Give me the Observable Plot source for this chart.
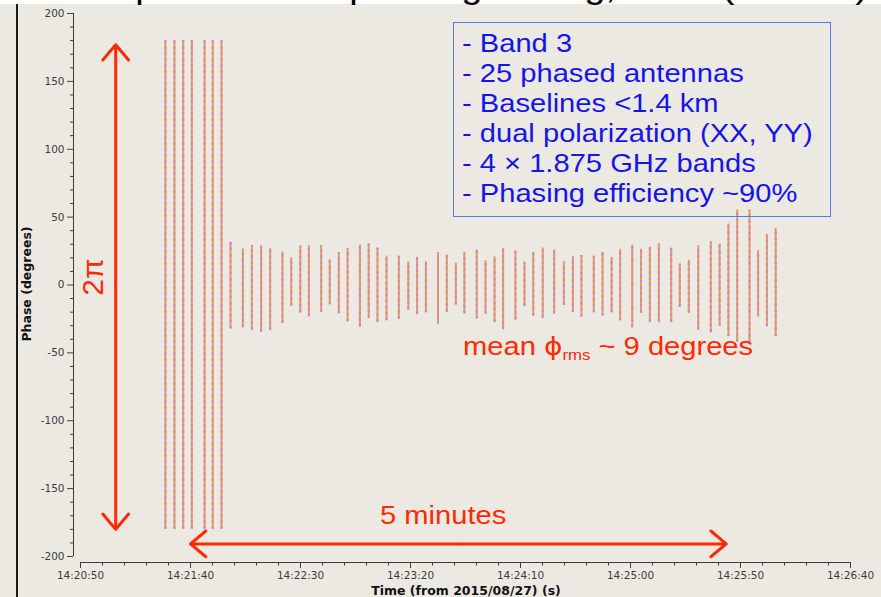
<!DOCTYPE html>
<html><head><meta charset="utf-8">
<script src="https://cdn.jsdelivr.net/npm/d3@7"></script>
<script src="https://cdn.jsdelivr.net/npm/@observablehq/plot@0.6"></script>
<style>
html,body{margin:0;padding:0;background:#ece9e3;}
#wrap{position:relative;width:881px;height:597px;overflow:hidden;background:#ece9e3;font-family:"Liberation Sans",Arial,sans-serif;}
#wrap svg{position:absolute;left:0;top:0;}
.ov{position:absolute;white-space:nowrap;transform-origin:0 0;z-index:2;}
.red{color:#ff2a00;font-size:26px;line-height:30px;transform:scaleX(1.12);}
.red sub{font-size:15px;vertical-align:-5px;line-height:0;}
.phi{font-family:"DejaVu Sans",sans-serif;font-size:25px;}
</style></head><body><div id="wrap"></div>
<script>
// ---- data ----
const barTimes = ["14:21:28.6","14:21:32.7","14:21:36.7","14:21:40.6","14:21:46.4","14:21:50.1","14:21:54.1",
  "14:21:58.2","14:22:03.8","14:22:07.9","14:22:12.1","14:22:16.2",
  "14:22:21.8","14:22:25.8","14:22:29.9","14:22:33.8",
  "14:22:39.4","14:22:43.3","14:22:47.4","14:22:51.4",
  "14:22:57.0","14:23:01.0","14:23:05.0","14:23:09.1",
  "14:23:14.7","14:23:19.0","14:23:23.0","14:23:27.0",
  "14:23:32.5","14:23:36.5","14:23:40.6","14:23:44.5",
  "14:23:50.1","14:23:54.1","14:23:58.2","14:24:02.1",
  "14:24:07.7","14:24:11.8","14:24:15.8","14:24:20.1",
  "14:24:25.3","14:24:29.7","14:24:33.8","14:24:37.7",
  "14:24:43.3","14:24:47.3","14:24:51.4","14:24:55.3",
  "14:25:00.8","14:25:04.8","14:25:08.8","14:25:12.9",
  "14:25:18.5","14:25:22.4","14:25:26.5","14:25:30.8",
  "14:25:36.5","14:25:40.5","14:25:44.5","14:25:48.5",
  "14:25:54.1","14:25:58.0","14:26:02.0","14:26:06.0"];
const phaseMax = [180,180,180,180,180,180,180,
  31.4,26.3,28.9,28.5,26.7,
  24.3,19.9,28.7,28.9,
  28.9,18.4,24.0,26.7,
  29.4,30.2,27.2,21.3,
  21.3,16.9,20.4,16.9,
  24.0,22.1,16.2,24.0,
  25.8,17.9,20.8,26.7,
  25.0,16.7,24.0,27.2,
  25.8,16.9,20.6,21.8,
  21.3,24.0,20.1,26.3,
  29.4,26.3,27.7,30.2,
  27.0,15.5,18.2,28.9,
  31.9,30.2,44.9,55.2,
  55.2,25.3,36.8,41.7];
const phaseMin = [-180,-180,-180,-180,-180,-180,-180,
  -32.4,-31.4,-33.6,-34.8,-33.6,
  -28.2,-15.7,-20.6,-23.3,
  -20.1,-14.5,-21.1,-27.0,
  -30.9,-24.5,-27.5,-26.3,
  -25.3,-18.4,-21.8,-20.4,
  -28.7,-20.1,-14.7,-21.1,
  -25.0,-21.3,-27.7,-32.9,
  -25.8,-15.7,-22.8,-24.5,
  -21.3,-15.0,-20.1,-23.6,
  -20.4,-22.8,-20.4,-26.3,
  -31.4,-20.8,-27.7,-27.7,
  -27.7,-16.4,-20.8,-33.1,
  -35.1,-30.2,-38.0,-42.0,
  -42.7,-23.3,-30.7,-38.0];
const xTickLabels = ["14:20:50","14:21:40","14:22:30","14:23:20","14:24:10","14:25:00","14:25:50","14:26:40"];
const yTickValues = [-200,-150,-100,-50,0,50,100,150,200];
const yDomain = [-200, 200];
// annotation arrows (data units)
const twoPiArrowTime = ["14:21:06","14:21:06"];
const twoPiArrowEnds = [177, -180];
const twoPiArrowMid = -1;
const fiveMinArrowY = -190.7;
const fiveMinArrowEnds = ["14:21:40","14:25:43.5"];
const fiveMinArrowMid = "14:23:42";
// text annotations
const boxLines = ["- Band 3","- 25 phased antennas","- Baselines <1.4 km","- dual polarization (XX, YY)","- 4 \u00d7 1.875 GHz bands","- Phasing efficiency ~90%"];
const titleText = "Example of ALMA phasing testing, 2015 (Band 3)";

// ---- helpers ----
const parseT = s => { const [h,m,sec] = s.split(":"); const v = +sec; return new Date(Date.UTC(2015,7,27,+h,+m,Math.floor(v),Math.round((v%1)*1000))); };
const bars = barTimes.map((t,i)=>({time: parseT(t), lo: phaseMin[i], hi: phaseMax[i]}));
const majorX = xTickLabels.map(parseT);
const xDomain = [majorX[0], majorX[majorX.length-1]];
const minorX = d3.utcSecond.every(10).range(xDomain[0], new Date(+xDomain[1]+1)).filter(d => !majorX.some(m => +m === +d));
const minorY = d3.range(yDomain[0], yDomain[1]+1, 10).filter(v => !yTickValues.includes(v));
const twoPi = twoPiArrowEnds.map((e,i)=>({x: parseT(twoPiArrowTime[i]), y1: twoPiArrowMid, y2: e}));
const fiveMin = fiveMinArrowEnds.map(e=>({x1: parseT(fiveMinArrowMid), x2: parseT(e), y: fiveMinArrowY}));

const ORANGE = "#ef9a3c", PURPLE = "#bb86e8", RED = "#ff2a00", AX = "#3c3c3c";
const W = 881, H = 597, ML = 73, MR = 31, MT = 13, MB = 35;
const frameW = W - ML - MR, frameH = H - MT - MB;

const chart = Plot.plot({
  width: W, height: H,
  marginLeft: ML, marginRight: MR, marginTop: MT, marginBottom: MB,
  style: {background: "transparent", fontFamily: "'DejaVu Sans', sans-serif", overflow: "visible"},
  x: {type: "utc", domain: xDomain, insetLeft: 7},
  y: {domain: yDomain, insetBottom: 6},
  marks: [
    // axis lines
    Plot.ruleX([xDomain[0]], {x: d => d, y1: () => yDomain[0], y2: () => yDomain[1], dx: -7, stroke: AX}),
    Plot.ruleY([yDomain[0]], {y: d => d, x1: () => xDomain[0], x2: () => xDomain[1], dy: 6, stroke: AX}),
    Plot.axisY(yTickValues, {tickSize: 6, tickPadding: 3, fontSize: 10.5, color: AX, label: null, tickFormat: d => `${d}`}),
    Plot.tickY(minorY, {y: d => d, stroke: AX, insetRight: frameW - 3, dx: -3}),
    Plot.axisX(majorX, {tickSize: 6, tickPadding: 3, fontSize: 10.5, color: AX, label: null, tickFormat: d3.utcFormat("%H:%M:%S")}),
    Plot.tickX(minorX, {x: d => d, stroke: AX, insetTop: frameH - 3.5, dy: 3.5}),
    Plot.text(["Time (from 2015/08/27) (s)"], {frameAnchor: "bottom", dy: 28.5, dx: 4, fontWeight: "bold", fontSize: 12.5, fill: "#111", lineAnchor: "middle", textAnchor: "middle"}),
    Plot.text(["Phase (degrees)"], {frameAnchor: "left", rotate: -90, dx: -47, dy: -4, fontWeight: "bold", fontSize: 12.5, fill: "#111", lineAnchor: "middle", textAnchor: "middle"}),
    // phase bars: two interleaved polarisations
    Plot.ruleX(bars, {x: "time", y1: "lo", y2: "hi", stroke: ORANGE, strokeWidth: 2}),
    Plot.ruleX(bars, {x: "time", y1: "lo", y2: "hi", stroke: PURPLE, strokeWidth: 2, strokeDasharray: "2.5,3.5"}),
    // annotation arrows
    Plot.arrow(twoPi, {x1: "x", x2: "x", y1: "y1", y2: "y2", stroke: RED, strokeWidth: 3, headLength: 10, headAngle: 80}),
    Plot.arrow(fiveMin, {x1: "x1", x2: "x2", y1: "y", y2: "y", stroke: RED, strokeWidth: 3, headLength: 10, headAngle: 80})
  ]
});
const wrap = document.getElementById("wrap");
wrap.appendChild(chart);

function ov(html, css, cls) {
  const d = document.createElement("div");
  d.className = "ov" + (cls ? " " + cls : "");
  d.innerHTML = html;
  Object.assign(d.style, css);
  wrap.appendChild(d);
  return d;
}
// top strip, cut-off title, left border
ov("", {left: "0px", top: "0px", width: "881px", height: "4px", background: "#ffffff", zIndex: 1});
const t = ov("", {left: "38px", top: "-31px", fontSize: "34px", lineHeight: "34px", color: "#000", transform: "scaleX(1.12)"});
t.textContent = titleText;
ov("", {left: "16px", top: "4px", width: "1.5px", height: "593px", background: "#1a1a1a"});
// info box
ov("", {left: "453px", top: "22px", width: "378px", height: "195px", border: "1.5px solid #5a78ee", boxSizing: "border-box"});
const bx = ov("", {left: "462px", top: "28px", fontSize: "26px", lineHeight: "30px", color: "#1515e8", transform: "scaleX(1.12)"});
boxLines.forEach(l => { const d = document.createElement("div"); d.style.height = "30px"; d.textContent = l; bx.appendChild(d); });
// red annotations
ov("mean <span class=\"phi\">\u03d5</span><sub>rms</sub> ~ 9 degrees", {left: "463px", top: "331px"}, "red");
ov("5 minutes", {left: "380px", top: "500px"}, "red");
ov("2\u03c0", {left: "93px", top: "277px", fontSize: "30px", lineHeight: "30px", color: RED, transform: "translate(-50%,-50%) rotate(-90deg)", transformOrigin: "50% 50%"});
</script>
</body></html>
